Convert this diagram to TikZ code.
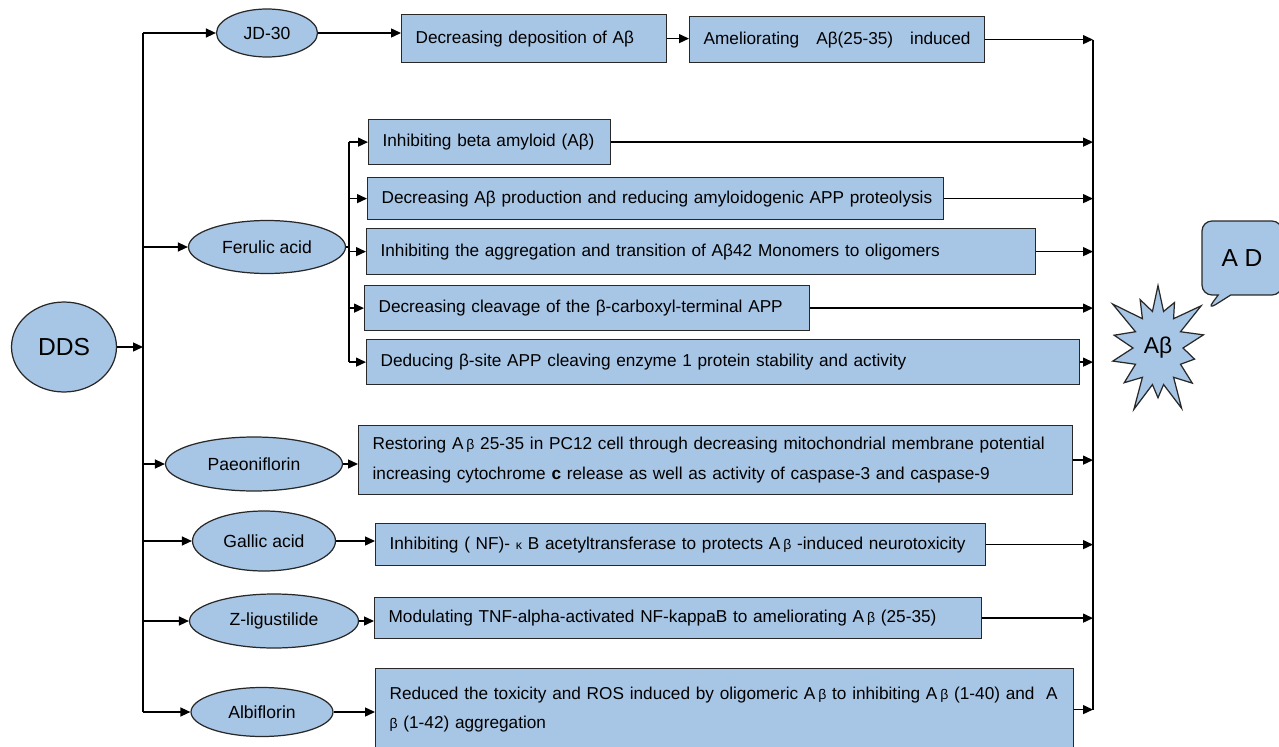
\documentclass[tikz,border=0pt]{standalone}
\usepackage{fontspec}
\setmainfont{Liberation Sans}
\usetikzlibrary{shapes.geometric,shapes.symbols,shapes.callouts,arrows.meta}
\definecolor{boxfill}{RGB}{167,197,228}
\definecolor{boxline}{RGB}{40,40,40}
\newcommand{\smbeta}{{\fontsize{8}{8}\selectfont β}}
\newcommand{\smkappa}{{\fontsize{7}{7}\selectfont κ}}

\begin{document}
\begin{tikzpicture}[x=0.02cm,y=-0.02cm,font=\fontsize{9.8}{17}\selectfont,
  oval/.style={ellipse,draw=boxline,fill=boxfill,line width=0.7pt,inner sep=0pt,font=\fontsize{10}{12}\selectfont},
  box/.style={rectangle,draw=boxline,fill=boxfill,line width=0.7pt,anchor=north west,inner xsep=0.28cm,inner ysep=0pt,align=left},
  arr/.style={line width=0.8pt,-{Triangle[length=2mm,width=1.8mm]}},
  bus/.style={line width=0.8pt}]
\clip (0,0) rectangle (1279,747);
\coordinate (trunk) at (143,0);
\coordinate (fbus) at (349,0);
\coordinate (rbus) at (1093,0);

\node[oval,minimum width=2.10cm,minimum height=1.80cm,font=\fontsize{14}{14}\selectfont] (dds) at (64,347) {DDS};
\node[oval,minimum width=2.02cm,minimum height=0.96cm] (jd) at (267,33) {JD-30};
\node[oval,minimum width=3.14cm,minimum height=1.06cm] (ferulic) at (267,247) {Ferulic acid};
\node[oval,minimum width=3.54cm,minimum height=1.08cm] (paeon) at (254,464) {Paeoniflorin};
\node[oval,minimum width=2.86cm,minimum height=1.20cm] (gallic) at (264,541) {Gallic acid};
\node[oval,minimum width=3.38cm,minimum height=1.08cm] (zlig) at (274,621) {Z-ligustilide};
\node[oval,minimum width=2.84cm,minimum height=0.98cm] (albi) at (262,712) {Albiflorin};

\node[box,text width=4.74cm,minimum height=0.96cm] (dep) at (401,14) {Decreasing deposition of Aβ};
\node[box,text width=5.34cm,minimum height=0.92cm] (amel) at (689,16) {Ameliorating\hfill Aβ(25-35)\hfill induced};
\node[box,text width=4.28cm,minimum height=0.90cm] (f1) at (368,119) {\mbox{Inhibiting beta amyloid (Aβ)}};
\node[box,text width=10.96cm,minimum height=0.84cm] (f2) at (367,177) {\mbox{Decreasing Aβ production and reducing amyloidogenic APP proteolysis}};
\node[box,text width=12.82cm,minimum height=0.92cm] (f3) at (366,228) {Inhibiting the aggregation and transition of Aβ42 Monomers to oligomers};
\node[box,text width=8.34cm,minimum height=0.90cm] (f4) at (364,285) {Decreasing cleavage of the β-carboxyl-terminal APP};
\node[box,text width=13.70cm,minimum height=0.90cm] (f5) at (366,339) {Deducing β-site APP cleaving enzyme 1 protein stability and activity};
\node[box,text width=13.72cm,minimum height=1.38cm] (rest) at (358,425) {\makebox[13.70cm][s]{Restoring A\,\smbeta\ 25-35 in PC12 cell through decreasing mitochondrial membrane potential}\\increasing cytochrome \textbf{c} release as well as activity of caspase-3 and caspase-9};
\node[box,text width=11.64cm,minimum height=0.84cm] (nfkb) at (375,523) {\mbox{Inhibiting ( NF)- \smkappa\ B acetyltransferase to protects A\,\smbeta\ -induced neurotoxicity}};
\node[box,text width=11.58cm,minimum height=0.82cm] (tnf) at (374,597) {Modulating TNF-alpha-activated NF-kappaB to ameliorating A\,\smbeta\ (25-35)};
\node[box,text width=13.40cm,minimum height=1.64cm] (ros) at (375,668) {\makebox[13.36cm][s]{Reduced the toxicity and ROS induced by oligomeric A\,\smbeta\ to inhibiting A\,\smbeta\ (1-40) and\ \ A}\\\smbeta\ (1-42) aggregation};

\node[starburst,draw=boxline,fill=boxfill,line width=0.7pt,starburst points=14,starburst point height=0.7cm,minimum width=2.4cm,minimum height=2.9cm,inner sep=0pt,font=\fontsize{13}{13}\selectfont] (abeta) at (1158,348) {Aβ};
\node[rectangle callout,draw=boxline,fill=boxfill,line width=0.7pt,rounded corners=0.2cm,minimum width=1.6cm,minimum height=1.48cm,callout absolute pointer={(1207,310)},font=\fontsize{14}{14}\selectfont] (ad) at (1242,258) {A D};

\draw[bus] (jd.west -| trunk) -- (albi.west -| trunk);
\draw[bus] (f1.west -| fbus) -- (f5.west -| fbus);
\draw[bus] (amel.east -| rbus) -- (ros.east -| rbus);
\draw[arr] (dds.east) -- (dds.east -| trunk);
\foreach \n in {jd,ferulic,paeon,gallic,zlig,albi}
  \draw[arr] (\n.west -| trunk) -- (\n.west);
\draw[arr] (jd.east) -- (jd.east -| dep.west);
\draw[arr] (dep.east) -- (dep.east -| amel.west);
\draw[bus] (ferulic.east) -- (ferulic.east -| fbus);
\foreach \n in {f1,f2,f3,f4,f5}
  \draw[arr] (\n.west -| fbus) -- (\n.west);
\foreach \a/\b in {paeon/rest,gallic/nfkb,zlig/tnf,albi/ros}
  \draw[arr] (\a.east) -- (\a.east -| \b.west);
\foreach \n in {amel,f1,f2,f3,f4,f5,rest,nfkb,tnf,ros}
  \draw[arr] (\n.east) -- (\n.east -| rbus);
\end{tikzpicture}
\end{document}
